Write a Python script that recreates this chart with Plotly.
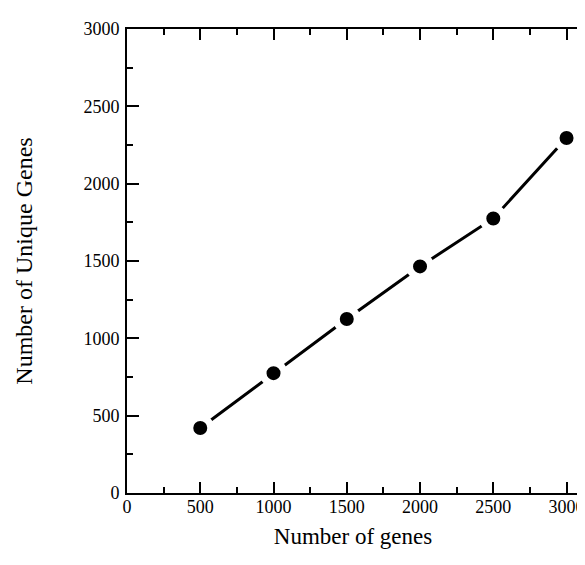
import plotly.graph_objects as go

x_vals = [500, 1000, 1500, 2000, 2500, 3000]
y_vals = [420, 775, 1125, 1465, 1775, 2295]
tick_vals = [0, 500, 1000, 1500, 2000, 2500, 3000]

x_title = "Number of genes"
y_title = "Number of Unique Genes"

fig = go.Figure()
fig.add_trace(go.Scatter(
    x=x_vals, y=y_vals, mode="lines+markers",
    line=dict(color="black", width=3),
    marker=dict(color="black", size=21, line=dict(color="white", width=7)),
    showlegend=False,
))

font = dict(family="Liberation Serif, Times New Roman, serif", color="black")

fig.update_layout(
    width=585, height=565,
    margin=dict(l=119, r=9, t=21, b=80),
    paper_bgcolor="white", plot_bgcolor="white",
    font=font,
)
fig.update_xaxes(
    range=[0, 3085], tickvals=tick_vals,
    ticks="inside", ticklen=11, tickwidth=2, tickcolor="black",
    minor=dict(dtick=250, tick0=0, ticks="inside", ticklen=6, tickwidth=2, tickcolor="black", showgrid=False),
    showline=True, linecolor="black", linewidth=2, mirror="ticks",
    showgrid=False, zeroline=False,
    tickfont=dict(size=18), ticklabelstandoff=-4,
    title=dict(text=x_title, font=dict(size=23), standoff=12),
)
fig.update_yaxes(
    range=[0, 3000], tickvals=tick_vals,
    ticks="inside", ticklen=12, tickwidth=2, tickcolor="black",
    minor=dict(dtick=250, tick0=0, ticks="inside", ticklen=6, tickwidth=2, tickcolor="black", showgrid=False),
    showline=True, linecolor="black", linewidth=2, mirror=True,
    showgrid=False, zeroline=False,
    tickfont=dict(size=18), ticklabelstandoff=2,
    title=dict(text=y_title, font=dict(size=24), standoff=44),
)

fig.write_html("out.html")
